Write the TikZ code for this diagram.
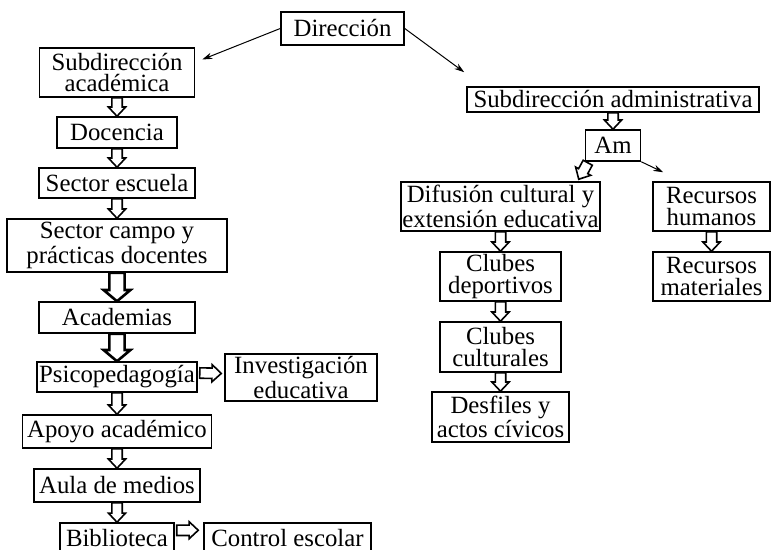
\documentclass[tikz,border=0pt]{standalone}
\usepackage{fontspec}
\setmainfont{Liberation Serif}
\usetikzlibrary{arrows.meta,calc}

\tikzset{
  caja/.style={draw, line width=0.75pt, align=center, inner sep=0pt,
    font=\fontsize{12.4}{10.8}\selectfont},
  linea/.style={line width=0.5pt, -{Stealth[length=5pt,width=3.2pt]}},
  % flecha hueca: medio ancho del cuerpo / medio ancho de la punta / largo de la punta
  hueca/.style args={#1/#2/#3}{line join=miter, to path={
    let \p1=(\tikztostart), \p2=(\tikztotarget),
        \n1={atan2(\y2-\y1,\x2-\x1)}, \n2={veclen(\x2-\x1,\y2-\y1)} in
    {[shift={(\p1)}, rotate=\n1]
      (0pt,#1) -- (\n2-#3,#1) -- (\n2-#3,#2) -- (\n2,0pt)
      -- (\n2-#3,-#2) -- (\n2-#3,-#1) -- (0pt,-#1) -- cycle}}},
  fina/.style={hueca=2.6pt/4.3pt/4.6pt, line width=0.8pt},
  gruesa/.style={hueca=3.8pt/6.7pt/5.6pt, line width=1.3pt}
}

\begin{document}
\begin{tikzpicture}[x=0.5pt, y=-0.5pt]
  \clip (0,0) rectangle (771,550);

  \node[caja, minimum width=61.5pt, minimum height=16.5pt] (dir) at (342.5,28.5) {Dirección};

  % columna academica
  \node[caja, minimum width=77.5pt, minimum height=24.5pt] (subac) at (117,72.5) {Subdirección\\académica};
  \node[caja, minimum width=60pt, minimum height=15.5pt] (doc) at (117,132.5) {Docencia};
  \node[caja, minimum width=78pt, minimum height=15pt] (secesc) at (117,183) {Sector escuela};
  \node[caja, minimum width=110pt, minimum height=26.5pt] (seccampo) at (117,245.5) {Sector campo y\\prácticas docentes};
  \node[caja, minimum width=78pt, minimum height=15.5pt] (acad) at (117,317.5) {Academias};
  \node[caja, minimum width=80pt, minimum height=15pt] (psico) at (117,377) {Psicopedagogía};
  \node[caja, minimum width=76pt, minimum height=23.5pt] (invest) at (301,377.5) {Investigación\\educativa};
  \node[caja, minimum width=94.5pt, minimum height=16.5pt] (apoyo) at (117,431.5) {Apoyo académico};
  \node[caja, minimum width=83pt, minimum height=16.5pt] (aula) at (117,485.5) {Aula de medios};
  \node[caja, minimum width=57pt, minimum height=15pt] (biblio) at (117,538) {Biblioteca};
  \node[caja, minimum width=83.5pt, minimum height=15pt] (control) at (287.5,538) {Control escolar};

  % columna administrativa
  \node[caja, minimum width=146pt, minimum height=12.5pt] (subadm) at (613,99.5) {Subdirección administrativa};
  \node[caja, minimum width=27.5pt, minimum height=15.5pt] (am) at (613,145.5) {Am};
  \node[caja, minimum width=99.5pt, minimum height=24.5pt] (difus) at (500.5,206.5) {Difusión cultural y\\extensión educativa};
  \node[caja, minimum width=58.5pt, minimum height=24.5pt] (rechum) at (711.5,206.5) {Recursos\\humanos};
  \node[caja, minimum width=60.5pt, minimum height=24.5pt] (clubdep) at (500.5,276.5) {Clubes\\deportivos};
  \node[caja, minimum width=58.5pt, minimum height=24.5pt] (recmat) at (711.5,276.5) {Recursos\\materiales};
  \node[caja, minimum width=60.5pt, minimum height=25pt] (clubcult) at (500.5,347) {Clubes\\culturales};
  \node[caja, minimum width=68.5pt, minimum height=25pt] (desf) at (500.5,417) {Desfiles y\\actos cívicos};

  \draw[linea] (dir.west) -- ($(subac.east)+(7,-13)$);
  \draw[linea] (dir.east) -- ($(subadm.north west)+(-2,-14)$);
  \draw[linea] (am.south east) -- ($(rechum.north west)+(11,-9)$);

  \draw[fina] (subac.south) to (doc.north);
  \draw[fina] (doc.south) to (secesc.north);
  \draw[fina] (secesc.south) to (seccampo.north);
  \draw[gruesa] (seccampo.south) to (acad.north);
  \draw[gruesa] (acad.south) to (psico.north);
  \draw[fina] ($(psico.east)+(2,-4)$) to ($(invest.west)+(-3,-4)$);
  \draw[fina] (psico.south) to (apoyo.north);
  \draw[fina] (apoyo.south) to (aula.north);
  \draw[fina] (aula.south) to (biblio.north);
  \draw[fina] ($(biblio.north east)+(2,8)$) to ($(control.north west)+(-5,8)$);

  \draw[fina] (subadm.south) to (am.north);
  \draw[fina] ($(am.south west)+(3,1)$) to ($(difus.north east)+(-22,-2)$);
  \draw[fina] (difus.south) to (clubdep.north);
  \draw[fina] (clubdep.south) to (clubcult.north);
  \draw[fina] (clubcult.south) to (desf.north);
  \draw[fina] (rechum.south) to (recmat.north);
\end{tikzpicture}
\end{document}
